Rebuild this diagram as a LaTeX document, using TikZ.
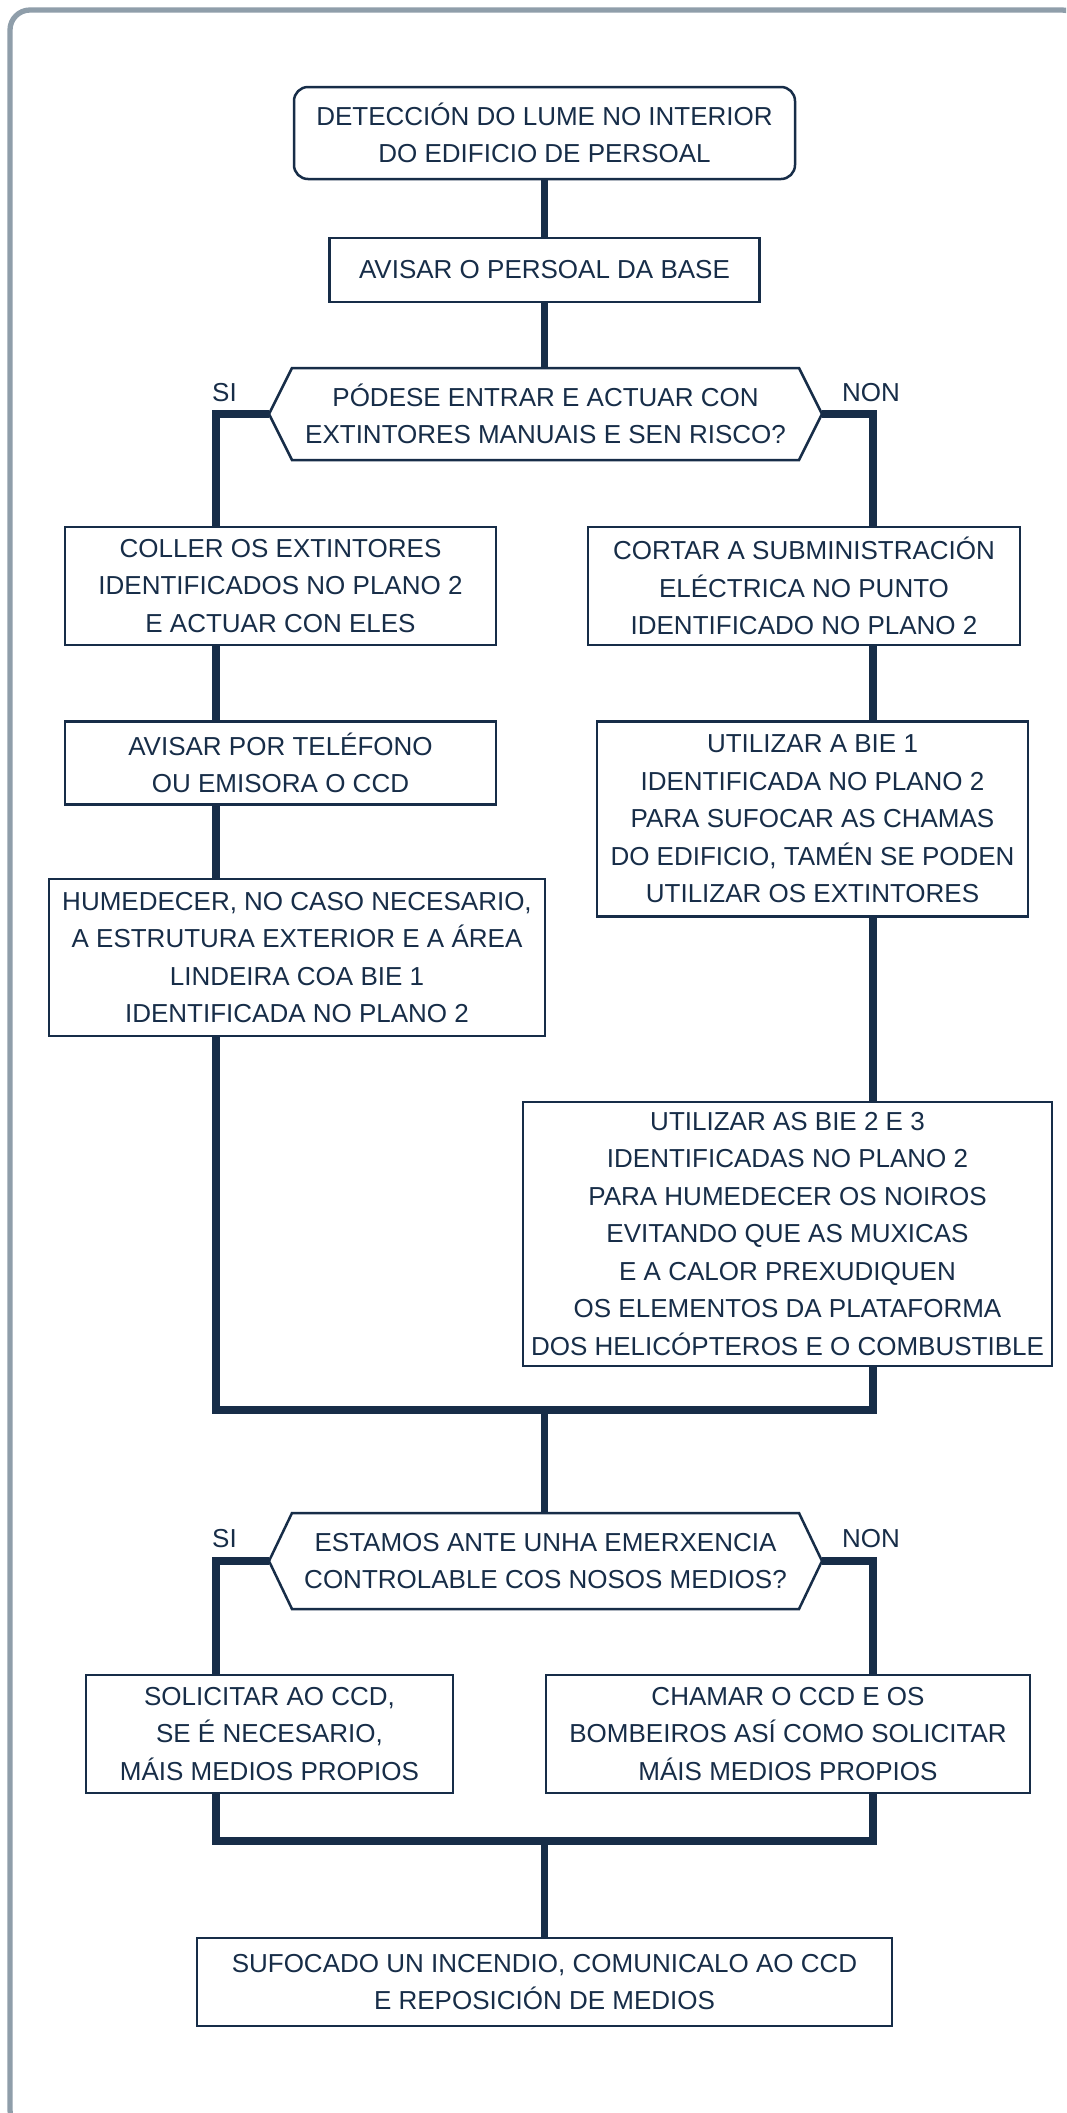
\documentclass[tikz,border=0pt]{standalone}
\usepackage{fontspec}
\setmainfont{Liberation Sans}
\usetikzlibrary{positioning}

\definecolor{navy}{HTML}{172D48}
\definecolor{gris}{HTML}{8F9EAA}

\tikzset{
  caixa/.style={draw=navy, line width=2.5pt, text=navy, align=center, inner sep=0pt,
    font=\fontsize{26}{37.5}\selectfont},
  inicio/.style={caixa, rounded corners=14pt},
  pregunta/.style={text=navy, align=center, inner sep=0pt, outer sep=0pt,
    font=\fontsize{26}{37.5}\selectfont, minimum width=553pt},
  borde/.style={draw=navy, line width=2.5pt},
  rama/.style={text=navy, inner sep=0pt, font=\fontsize{26}{30}\selectfont},
  conector/.style={draw=navy, line width=7.5pt},
}

% contorno hexagonal das preguntas
\newcommand{\hexagono}[1]{%
  \draw[borde] (#1.west) -- ([xshift=23pt]#1.north west) -- ([xshift=-23pt]#1.north east)
    -- (#1.east) -- ([xshift=-23pt]#1.south east) -- ([xshift=23pt]#1.south west) -- cycle;}

\begin{document}
\begin{tikzpicture}[x=1pt, y=1pt]
  \clip (0,0) rectangle (1066,-2113);
  \fill[white] (0,0) rectangle (1066,-2113);
  \draw[gris, line width=5.3pt, rounded corners=20pt] (10,-10) rectangle (1082,-2130);

  \node[inicio, minimum width=501pt, minimum height=92pt] (deteccion) at (544.5,-133)
    {DETECCIÓN DO LUME NO INTERIOR\\DO EDIFICIO DE PERSOAL};
  \node[caixa, minimum width=430pt, minimum height=64pt] (aviso) at (544.5,-270)
    {AVISAR O PERSOAL DA BASE};
  \node[pregunta, minimum height=92pt] (preg1) at (545.5,-414)
    {PÓDESE ENTRAR E ACTUAR CON\\EXTINTORES MANUAIS E SEN RISCO?};
  \hexagono{preg1}
  \node[rama, above left=12pt and 32pt of preg1.west] (si1) {SI};
  \node[rama, above right=12pt and 20pt of preg1.east] (non1) {NON};

  \node[caixa, minimum width=431pt, minimum height=118pt] (coller) at (280.5,-586)
    {COLLER OS EXTINTORES\\IDENTIFICADOS NO PLANO 2\\E ACTUAR CON ELES};
  \node[caixa, minimum width=432pt, minimum height=118pt] (cortar) at (804,-586)
    {CORTAR A SUBMINISTRACIÓN\\ELÉCTRICA NO PUNTO\\IDENTIFICADO NO PLANO 2};
  \node[caixa, minimum width=431pt, minimum height=83pt,
    below=74pt of coller] (telefono)
    {AVISAR POR TELÉFONO\\OU EMISORA O CCD};
  \node[caixa, minimum width=431pt, minimum height=195pt,
    below=74pt of cortar, xshift=8.5pt] (bie1)
    {UTILIZAR A BIE 1\\IDENTIFICADA NO PLANO 2\\PARA SUFOCAR AS CHAMAS\\DO EDIFICIO, TAMÉN SE PODEN\\UTILIZAR OS EXTINTORES};
  \node[caixa, minimum width=496pt, minimum height=157pt,
    below=72pt of telefono, xshift=16.5pt] (humedecer)
    {HUMEDECER, NO CASO NECESARIO,\\A ESTRUTURA EXTERIOR E A ÁREA\\LINDEIRA COA BIE 1\\IDENTIFICADA NO PLANO 2};
  \node[caixa, minimum width=529pt, minimum height=264pt,
    below=183pt of bie1, xshift=-25pt] (bie23)
    {UTILIZAR AS BIE 2 E 3\\IDENTIFICADAS NO PLANO 2\\PARA HUMEDECER OS NOIROS\\EVITANDO QUE AS MUXICAS\\E A CALOR PREXUDIQUEN\\OS ELEMENTOS DA PLATAFORMA\\DOS HELICÓPTEROS E O COMBUSTIBLE};

  \node[pregunta, minimum height=96pt] (preg2) at (545.5,-1561)
    {ESTAMOS ANTE UNHA EMERXENCIA\\CONTROLABLE COS NOSOS MEDIOS?};
  \hexagono{preg2}
  \node[rama, above left=13pt and 32pt of preg2.west] (si2) {SI};
  \node[rama, above right=13pt and 20pt of preg2.east] (non2) {NON};

  \node[caixa, minimum width=367pt, minimum height=118pt] (solicitar) at (269.5,-1734)
    {SOLICITAR AO CCD,\\SE É NECESARIO,\\MÁIS MEDIOS PROPIOS};
  \node[caixa, minimum width=484pt, minimum height=118pt] (chamar) at (788,-1734)
    {CHAMAR O CCD E OS\\BOMBEIROS ASÍ COMO SOLICITAR\\MÁIS MEDIOS PROPIOS};
  \node[caixa, minimum width=695pt, minimum height=88pt] (sufocado) at (544.5,-1982)
    {SUFOCADO UN INCENDIO, COMUNICALO AO CCD\\E REPOSICIÓN DE MEDIOS};

  % columnas das ramas
  \coordinate (esq) at (216,0);
  \coordinate (der) at (873,0);
  \coordinate (xunta1) at (544.5,-1410);
  \coordinate (xunta2) at (544.5,-1841);

  \draw[conector] (deteccion) -- (aviso);
  \draw[conector] (aviso) -- (preg1.north -| aviso);
  \draw[conector] (preg1.west) -| (coller.north -| esq);
  \draw[conector] (preg1.east) -| (cortar.north -| der);
  \draw[conector] (coller.south -| esq) -- (telefono.north -| esq);
  \draw[conector] (telefono.south -| esq) -- (humedecer.north -| esq);
  \draw[conector] (cortar.south -| der) -- (bie1.north -| der);
  \draw[conector] (bie1.south -| der) -- (bie23.north -| der);
  \draw[conector] (humedecer.south -| esq) |- (xunta1) -| (bie23.south -| der);
  \draw[conector] (xunta1) -- (preg2.north -| xunta1);

  \draw[conector] (preg2.west) -| (solicitar.north -| esq);
  \draw[conector] (preg2.east) -| (chamar.north -| der);
  \draw[conector] (solicitar.south -| esq) |- (xunta2) -| (chamar.south -| der);
  \draw[conector] (xunta2) -- (sufocado);
\end{tikzpicture}
\end{document}
